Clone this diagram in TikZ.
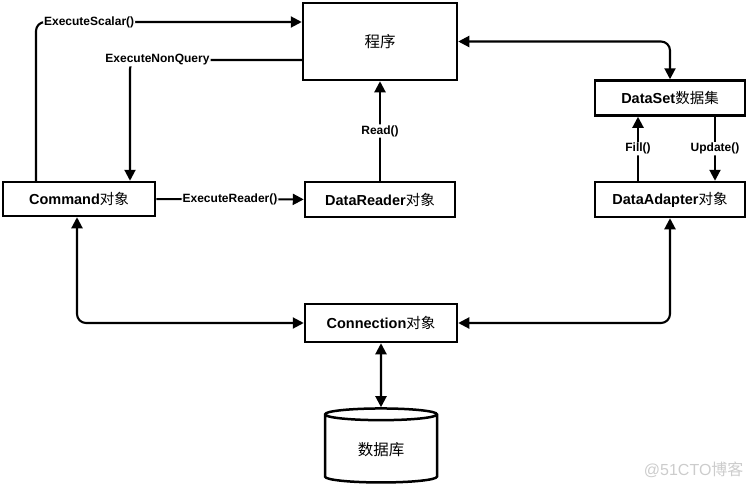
\documentclass[tikz,border=0pt]{standalone}
\usepackage{fontspec}
\setmainfont{Liberation Sans}
\newfontfamily\cjk{Noto Sans CJK SC}
\usetikzlibrary{arrows.meta,shapes.geometric}
\newcommand{\zh}[1]{{\cjk\mdseries #1}}
\tikzset{
	objbox/.style={draw, line width=2.5pt, fill=white, minimum width=150pt, minimum height=35pt, font=\bfseries\fontsize{14.5}{16}\selectfont},
	link/.style={line width=2.1pt, rounded corners=9pt, -{Triangle[length=11pt,width=11pt]}},
	twoway/.style={line width=2.1pt, rounded corners=9pt, {Triangle[length=11pt,width=11pt]}-{Triangle[length=11pt,width=11pt]}},
	lbl/.style={fill=white, inner sep=1pt, font=\bfseries\fontsize{12}{14}\selectfont},
}
\begin{document}
\begin{tikzpicture}[x=1pt,y=-1pt]
	\useasboundingbox (0,0) rectangle (751,490);
	% objects
	\node[objbox, minimum width=154pt, minimum height=77pt, font=\fontsize{15.5}{17}\selectfont] (prog) at (380,41.5) {\zh{程序}};
	\node[objbox] (dataset) at (670,98) {DataSet\zh{数据集}};
	\node[objbox, minimum width=152pt, minimum height=34pt] (command) at (79,199) {Command\zh{对象}};
	\node[objbox] (reader) at (380,199.5) {DataReader\zh{对象}};
	\node[objbox] (adapter) at (670,199.5) {DataAdapter\zh{对象}};
	\node[objbox, minimum width=152pt, minimum height=38pt] (conn) at (381,323) {Connection\zh{对象}};
	\node[cylinder, shape border rotate=90, aspect=0.22, draw, line width=2.5pt, minimum width=112pt, minimum height=74pt, font=\fontsize{15.5}{17}\selectfont] (db) at (381,450) {\zh{数据库}};
	% calls
	\draw[link] ([xshift=-43pt]command.north) |- node[lbl, pos=0.6] (scalar) {ExecuteScalar()} ([yshift=19.5pt]prog.west);
	\draw[link] ([yshift=-18.5pt]prog.west) -| node[lbl, pos=0.42] (nonquery) {ExecuteNonQuery} ([xshift=51pt]command.north);
	\draw[link] (command) -- node[lbl] (execreader) {ExecuteReader()} (reader);
	\draw[link] (reader) -- node[lbl] (read) {Read()} (prog);
	\draw[twoway] (prog.east) -| (dataset.north);
	\draw[link] ([xshift=-32pt]adapter.north) -- node[lbl] (fill) {Fill()} ([xshift=-32pt]dataset.south);
	\draw[link] ([xshift=45pt]dataset.south) -- node[lbl] (update) {Update()} ([xshift=45pt]adapter.north);
	% connection
	\draw[twoway] ([xshift=-2pt]command.south) |- (conn.west);
	\draw[twoway] (adapter.south) |- (conn.east);
	\draw[twoway] (conn) -- (db);
	\node[text=gray!40, anchor=east, font=\fontsize{16}{18}\selectfont] (mark) at (747,470) {@51CTO\zh{博客}};
\end{tikzpicture}
\end{document}
